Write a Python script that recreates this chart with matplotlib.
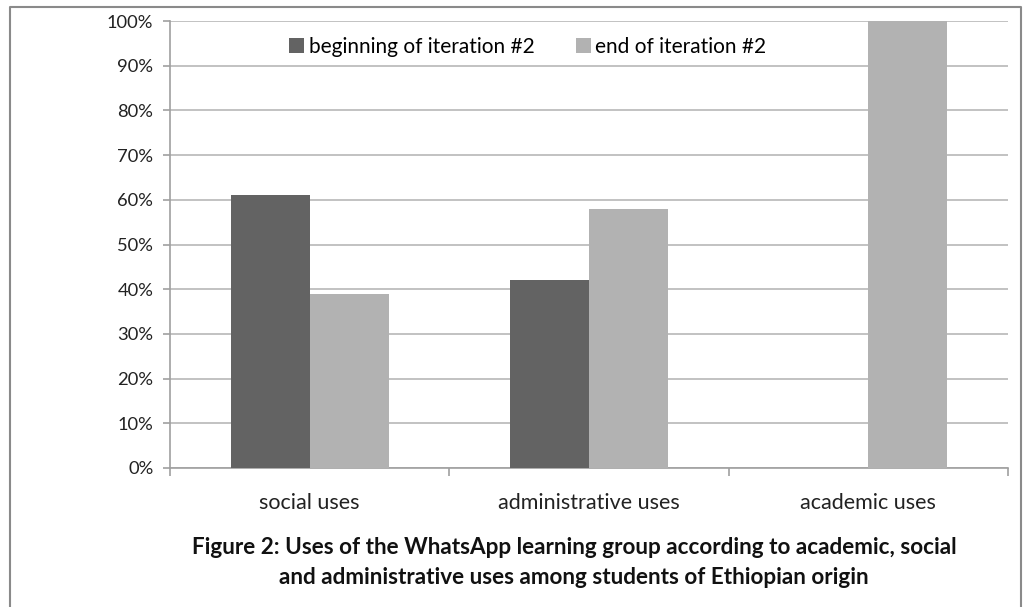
import numpy as np
import matplotlib.pyplot as plt
from matplotlib.lines import Line2D
from matplotlib.patches import Patch

plt.rcParams['font.family'] = ['Lato', 'DejaVu Sans']

# Data
categories = ['social uses', 'administrative uses', 'academic uses']
beginning = [61, 42, 0]
end = [39, 58, 100]
series_names = ['beginning of iteration #2', 'end of iteration #2']
colors = ['#636363', '#b2b2b2']

fig = plt.figure(figsize=(10.31, 6.07), dpi=100)
ax = fig.add_axes([170 / 1031, 1 - 468 / 607, 838 / 1031, 447 / 607])

x = np.arange(len(categories))
w = 0.283
ax.bar(x - w / 2, beginning, w, color=colors[0], zorder=3)
ax.bar(x + w / 2, end, w, color=colors[1], zorder=3)

ax.set_xlim(-0.5, len(categories) - 0.5)
ax.set_ylim(0, 100)
ax.set_yticks(np.arange(0, 101, 10))
ax.set_yticklabels([f'{v}%' for v in range(0, 101, 10)], fontsize=13.2, color='#222222')
ax.yaxis.grid(True, color='#b8b8b8', linewidth=1.2, zorder=0)

# category ticks between groups, labels centred
ax.set_xticks(np.arange(-0.5, len(categories), 1))
ax.set_xticklabels([])
ax.set_xticks(x, minor=True)
ax.set_xticklabels(categories, minor=True, fontsize=15.5, color='#222222')
ax.tick_params(axis='x', which='minor', length=0, pad=18)
ax.tick_params(axis='x', which='major', length=6, color='#a0a0a0', width=1.2)
ax.tick_params(axis='y', length=5, color='#a0a0a0', width=1.2, pad=7)

for s in ['top', 'right']:
    ax.spines[s].set_visible(False)
for s in ['left', 'bottom']:
    ax.spines[s].set_color('#a0a0a0')
    ax.spines[s].set_linewidth(1.2)

handles = [Patch(facecolor=c, edgecolor='none') for c in colors]
ax.legend(handles, series_names, loc='center', bbox_to_anchor=(0.427, 0.942),
          ncol=2, frameon=False, fontsize=15, handlelength=0.72, handleheight=0.72,
          handletextpad=0.2, columnspacing=2.0)

fig.text(574 / 1031, 1 - 548 / 607,
         'Figure 2: Uses of the WhatsApp learning group according to academic, social',
         ha='center', va='center', fontsize=16.2, fontweight='bold', color='#111111')
fig.text(574 / 1031, 1 - 578 / 607,
         'and administrative uses among students of Ethiopian origin',
         ha='center', va='center', fontsize=16.2, fontweight='bold', color='#111111')

# outer frame (left, top, right)
fx0, fx1, fy1 = 10 / 1031, 1021 / 1031, 1 - 7 / 607
fig.add_artist(Line2D([fx0, fx0, fx1, fx1], [0, fy1, fy1, 0],
                      transform=fig.transFigure, color='#8a8a8a', linewidth=1.5))

fig.savefig('out.png', dpi=100)
